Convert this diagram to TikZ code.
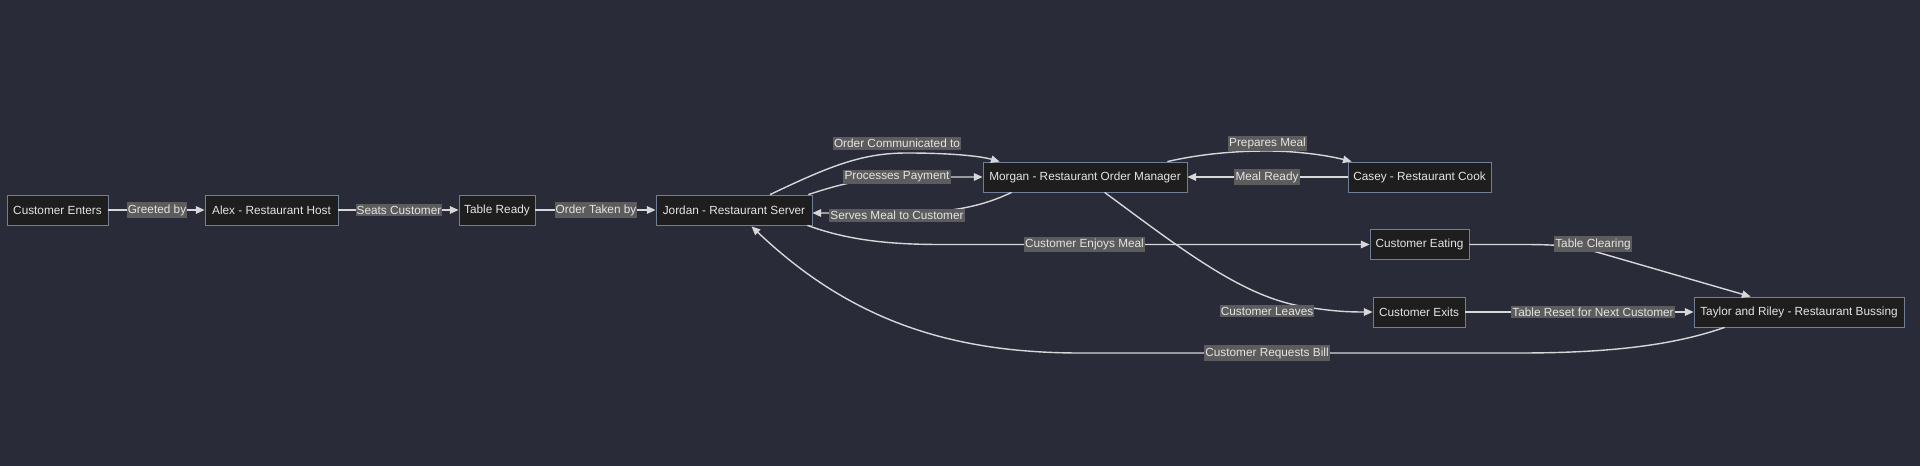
\documentclass[tikz,border=0pt]{standalone}
\usepackage{fontspec}
\setmainfont{Liberation Sans}
\usetikzlibrary{arrows.meta,calc}
\definecolor{bgcol}{RGB}{41,44,56}
\definecolor{nodefill}{RGB}{30,30,31}
\definecolor{bordercol}{RGB}{112,127,152}
\definecolor{lblfill}{RGB}{92,92,92}
\definecolor{txtcol}{RGB}{228,228,228}
\definecolor{linecol}{RGB}{215,215,218}
\tikzset{
  box/.style={draw=bordercol, fill=nodefill, text=txtcol, line width=0.6pt,
    minimum height=22.5pt, inner sep=0pt, font=\fontsize{8.85}{10.6}\selectfont},
  lbl/.style={fill=lblfill, text=txtcol, inner xsep=0.8pt, inner ysep=1.6pt,
    font=\fontsize{8.85}{10.6}\selectfont},
  conn/.style={draw=linecol, line width=1.05pt, -{Triangle[length=6.5pt,width=5.6pt]}}
}
\begin{document}
\begin{tikzpicture}[x=0.75pt,y=-0.75pt]
\useasboundingbox (0,0) rectangle (1920,466);
\fill[bgcol] (0,0) rectangle (1920,466);
% nodes
\node[box, minimum width=75.75pt]  (ce)     at (57.5,210)   {Customer Enters};
\node[box, minimum width=99.75pt]  (alex)   at (271.5,210)  {Alex - Restaurant Host};
\node[box, minimum width=57pt]     (tr)     at (497,210)    {Table Ready};
\node[box, minimum width=117pt]    (jordan) at (734,210)    {Jordan - Restaurant Server};
\node[box, minimum width=153pt]    (morgan) at (1085,177)   {Morgan - Restaurant Order Manager};
\node[box, minimum width=107.25pt] (casey)  at (1419.5,177) {Casey - Restaurant Cook};
\node[box, minimum width=74.25pt]  (eating) at (1419.5,244.5) {Customer Eating};
\node[box, minimum width=69pt]     (exits)  at (1419,312)   {Customer Exits};
\node[box, minimum width=157.5pt]  (taylor) at (1799,312)   {Taylor and Riley - Restaurant Bussing};
% connectors
\draw[conn] (ce.east) -- (alex.west);
\draw[conn] (alex.east) -- (tr.west);
\draw[conn] (tr.east) -- (jordan.west);
\draw[conn] ($(jordan.north)+(36,0)$) .. controls (830,166) and (862,153) .. (907,153)
   .. controls (950,153) and (980,156) .. ($(morgan.north west)+(17,0)$);
\draw[conn] ($(jordan.north east)+(-4,0)$) .. controls (840,184) and (868,177) .. (910,177) -- (morgan.west);
\draw[conn] ($(morgan.south west)+(29,0)$) .. controls (985,205) and (955,213) .. (900,213) -- ($(jordan.east)+(0,3)$);
\draw[conn] ($(jordan.south east)+(-5,0)$) .. controls (842,238) and (880,244.5) .. (940,244.5) -- (eating.west);
\draw[conn] ($(morgan.north east)+(-20,0)$) .. controls (1200,154) and (1235,151) .. (1267,151)
   .. controls (1300,151) and (1330,156) .. ($(casey.north west)+(4,0)$);
\draw[conn] (casey.west) -- (morgan.east);
\draw[conn] ($(morgan.south west)+(122,0)$) .. controls (1180,248) and (1240,295) .. (1300,306)
   .. controls (1330,311) and (1345,312) .. (exits.west);
\draw[conn] (eating.east) -- (1520,244.5) .. controls (1560,244.5) and (1575,246) .. (1600,253) -- ($(taylor.north west)+(57,0)$);
\draw[conn] (exits.east) -- (taylor.west);
\draw[conn] ($(taylor.south west)+(31,0)$) .. controls (1680,343) and (1620,353) .. (1520,353) -- (1080,353)
   .. controls (950,353) and (850,320) .. ($(jordan.south west)+(96,1)$);
% labels
\node[lbl] (l1)  at (157,210)    {Greeted by};
\node[lbl] (l2)  at (399,210)    {Seats Customer};
\node[lbl] (l3)  at (596,210)    {Order Taken by};
\node[lbl] (l4)  at (897,143.5)  {Order Communicated to};
\node[lbl] (l5)  at (897,177)    {Processes Payment};
\node[lbl] (l6)  at (897,215.5)  {Serves Meal to Customer};
\node[lbl] (l7)  at (1084.5,244.5) {Customer Enjoys Meal};
\node[lbl] (l8)  at (1267.5,143.5) {Prepares Meal};
\node[lbl] (l9)  at (1267,177)   {Meal Ready};
\node[lbl] (l10) at (1267,311)   {Customer Leaves};
\node[lbl] (l11) at (1593,244)   {Table Clearing};
\node[lbl] (l12) at (1593,312)   {Table Reset for Next Customer};
\node[lbl] (l13) at (1267,353)   {Customer Requests Bill};
\end{tikzpicture}
\end{document}
